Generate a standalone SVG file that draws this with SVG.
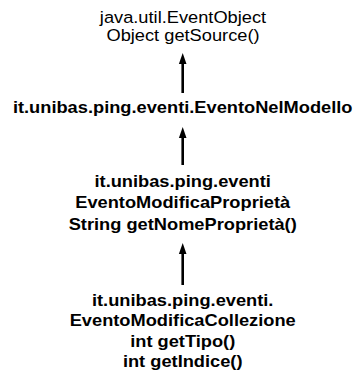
<svg xmlns="http://www.w3.org/2000/svg" width="359" height="382" viewBox="0 0 359 382">
<style>
text{font-family:"Liberation Sans",Arial,Helvetica,sans-serif;font-size:16.3px;fill:#000;text-anchor:middle}
.b{font-weight:bold}
.c{stroke:#000;stroke-width:2.6;fill:none}
</style>
<defs>
<path id="head" d="M0,0 L3.8,11 L-3.8,11 Z" fill="#000"/>
</defs>
<rect width="359" height="382" fill="#fff"/>
<g id="connectors">
<line class="c" x1="182.7" y1="93" x2="182.7" y2="64"/>
<use href="#head" x="182.7" y="53"/>
<line class="c" x1="182.7" y1="165" x2="182.7" y2="138"/>
<use href="#head" x="182.7" y="127"/>
<line class="c" x1="182.7" y1="285" x2="182.7" y2="254"/>
<use href="#head" x="182.7" y="243"/>
</g>
<g id="eventobject" transform="translate(183,0) scale(1.12,1)">
<text x="0" y="23">java.util.EventObject</text>
<text x="0" y="41">Object getSource()</text>
</g>
<g id="eventonelmodello" transform="translate(182.7,0) scale(1.12,1)">
<text class="b" x="0" y="113">it.unibas.ping.eventi.EventoNelModello</text>
</g>
<g id="eventomodificaproprieta" transform="translate(182.7,0) scale(1.12,1)">
<text class="b" x="0" y="187">it.unibas.ping.eventi</text>
<text class="b" x="0" y="208.5">EventoModificaProprietà</text>
<text class="b" x="0" y="230">String getNomeProprietà()</text>
</g>
<g id="eventomodificacollezione" transform="translate(182.7,0) scale(1.12,1)">
<text class="b" x="0" y="306">it.unibas.ping.eventi.</text>
<text class="b" x="0" y="326.5">EventoModificaCollezione</text>
<text class="b" x="0" y="347">int getTipo()</text>
<text class="b" x="0" y="367.5">int getIndice()</text>
</g>
</svg>
